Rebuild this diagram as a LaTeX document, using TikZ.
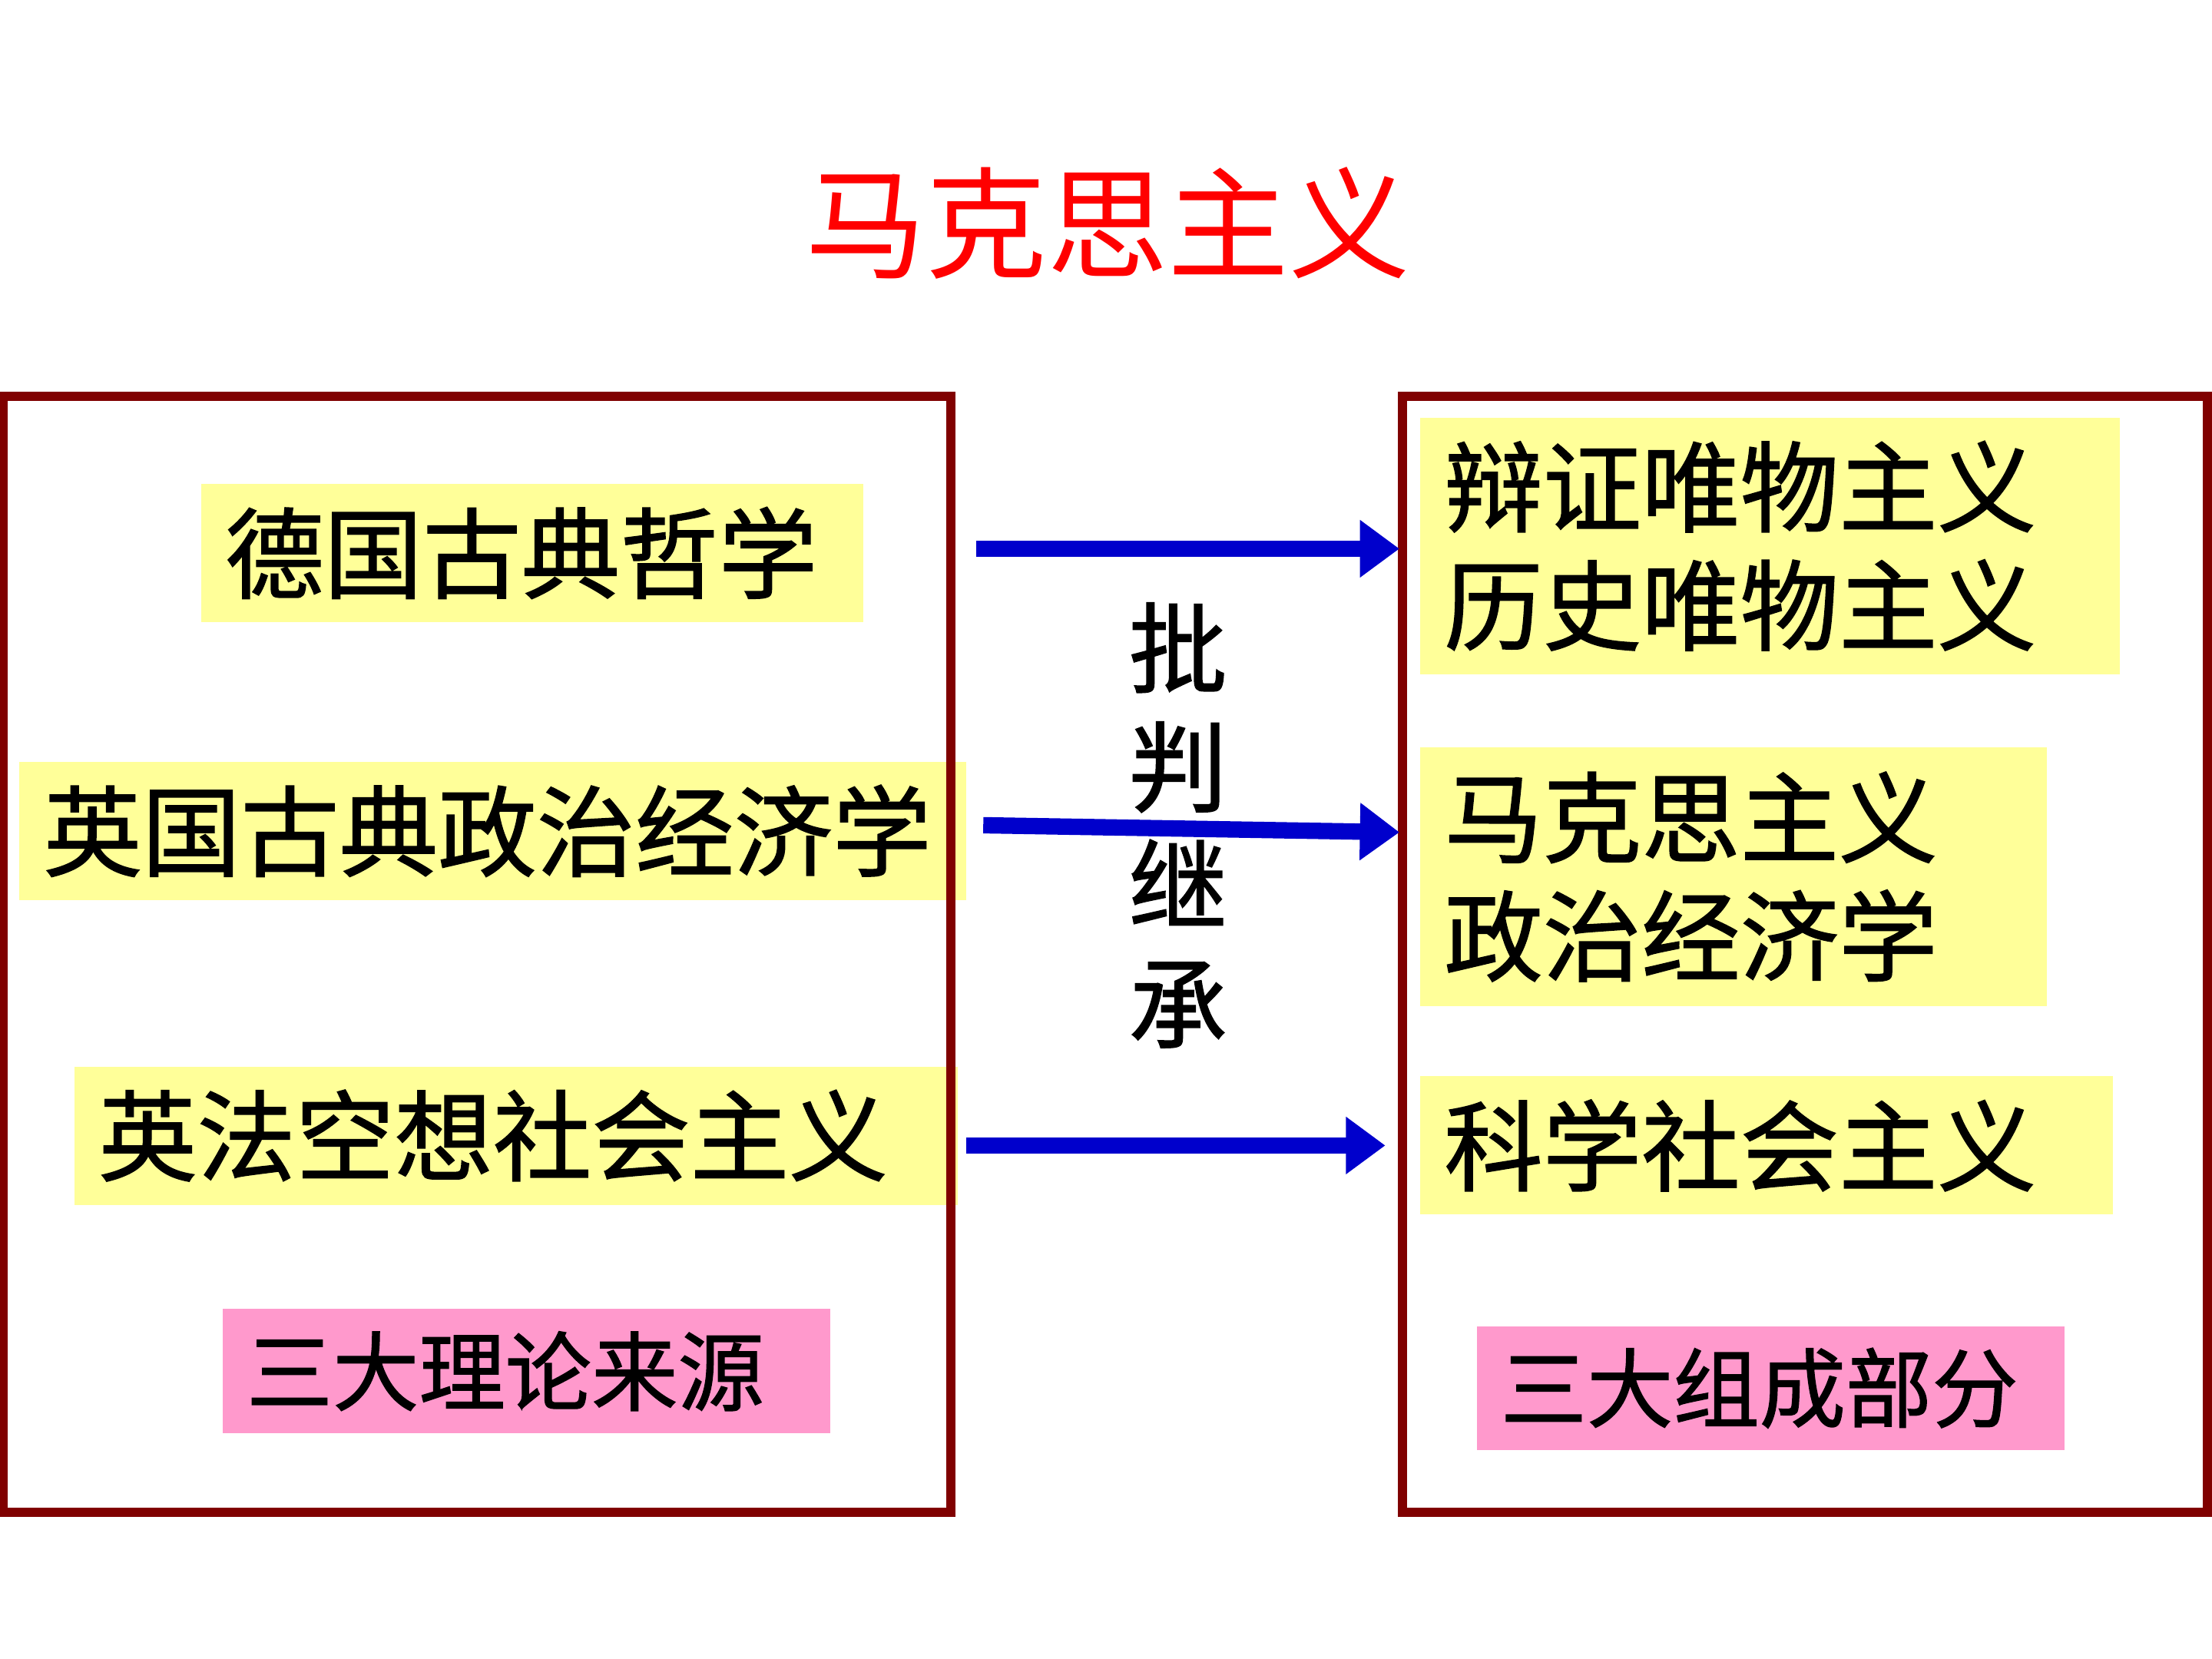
\documentclass[tikz,border=0pt]{standalone}
\usepackage{fontspec}
\newfontfamily\cjk{Noto Sans CJK SC}
\newfontfamily\cjkheavy{Noto Sans CJK SC}[FakeBold=1.2]
\usepackage{xcolor}
\definecolor{frameRed}{HTML}{800000}
\definecolor{arrowBlue}{HTML}{0000CC}
\definecolor{noteYellow}{HTML}{FFFF99}
\definecolor{notePink}{HTML}{FF99CC}
\usepackage{tikz}
\usetikzlibrary{arrows.meta}

\begin{document}
\begin{tikzpicture}[font=\cjk,
  item/.style={anchor=west, fill=noteYellow, inner xsep=0.17cm, inner ysep=0pt,
    align=left, font=\cjkheavy\fontsize{19.9}{23.9}\selectfont},
  tag/.style={item, fill=notePink, minimum height=0.88cm,
    font=\cjkheavy\fontsize{17.4}{20}\selectfont},
  frame/.style={draw=frameRed, line width=1.9pt, anchor=north west, inner sep=0pt, outer sep=0pt},
  flow/.style={arrowBlue, line width=3.3pt, -{Triangle[length=2.8mm, width=3.9mm]}}]
  \useasboundingbox (0,0) rectangle (15.68,11.76);

  \node[text=red, font=\cjk\fontsize{24.4}{28}\selectfont] (title) at (7.85,10.18) {马克思主义};

  % three sources
  \node[item, text width=4.35cm, minimum height=0.98cm] (german) at (1.42,7.84) {德国古典哲学};
  \node[item, text width=6.37cm, minimum height=0.98cm] (british) at (0.13,5.87) {英国古典政治经济学};
  \node[item, text width=5.92cm, minimum height=0.98cm] (utopian) at (0.52,3.71) {英法空想社会主义};
  \node[tag, text width=3.97cm] (sources) at (1.57,2.04) {三大理论来源};

  % three components
  \node[item, text width=4.62cm, minimum height=1.82cm] (dialectic) at (10.06,7.89) {辩证唯物主义\\历史唯物主义};
  \node[item, text width=4.10cm, minimum height=1.83cm] (economy) at (10.06,5.545) {马克思主义\\政治经济学};
  \node[item, text width=4.57cm, minimum height=0.98cm] (science) at (10.06,3.64) {科学社会主义};
  \node[tag, text width=3.83cm] (parts) at (10.46,1.92) {三大组成部分};

  \node[frame, minimum width=6.72cm, minimum height=7.91cm] (left) at (0.02,8.95) {};
  \node[frame, minimum width=5.71cm, minimum height=7.91cm] (right) at (9.94,8.95) {};

  \node[align=center, font=\cjkheavy\fontsize{19.9}{23.9}\selectfont] (verdict) at (8.35,5.91) {批\\判\\继\\承};

  \coordinate (g1) at (6.92,7.87);
  \coordinate (d1) at (9.92,7.87);
  \coordinate (g2) at (6.97,5.91);
  \coordinate (d2) at (9.92,5.86);
  \coordinate (g3) at (6.85,3.64);
  \coordinate (d3) at (9.82,3.64);
  \draw[flow] (g1) -- (d1);
  \draw[flow] (g2) -- (d2);
  \draw[flow] (g3) -- (d3);
\end{tikzpicture}
\end{document}
